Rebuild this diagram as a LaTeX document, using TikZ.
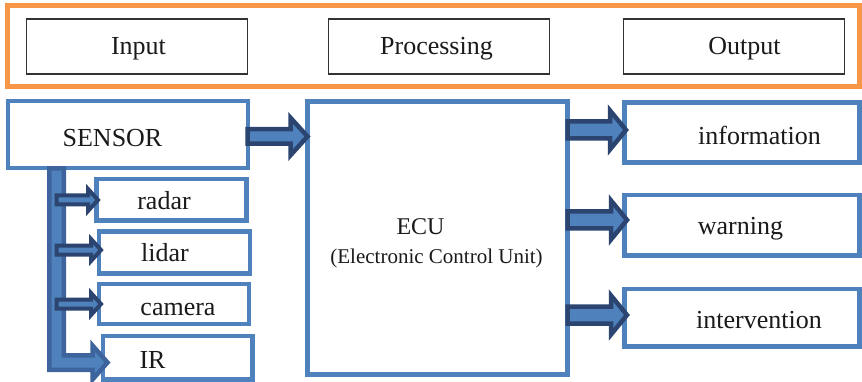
\documentclass[tikz,border=0pt]{standalone}
\usepackage{fontspec}
\setmainfont{Liberation Serif}
\usetikzlibrary{calc}
\definecolor{obl}{HTML}{4F81BD}
\definecolor{dkbl}{HTML}{2B4570}
\definecolor{mdbl}{HTML}{3D649C}
\definecolor{orng}{HTML}{F79646}
\definecolor{gline}{HTML}{333333}
\definecolor{txt}{HTML}{1A1A1A}
\tikzset{
  bbox/.style={draw=obl, line width=4.5pt, fill=white, rectangle, inner sep=0pt, outer sep=0pt},
  tbox/.style={draw=gline, line width=1.3pt, rectangle, inner sep=0pt, outer sep=0pt},
  oframe/.style={draw=orng, line width=4.5pt, rectangle, inner sep=0pt, outer sep=0pt},
  lbl/.style={font=\fontsize{26}{30}\selectfont, inner sep=0pt, anchor=base, text=txt},
  darrow/.style={draw=dkbl, fill=obl, line width=4.5pt, line join=miter},
  sarrow/.style={draw=dkbl, fill=obl, line width=4pt, line join=miter},
  larrow/.style={draw=mdbl, fill=obl, line width=4.5pt, line join=miter},
}
% #1 style, #2 start, #3 tip, #4 shaft half, #5 head half, #6 head length
\newcommand\harrow[6]{%
  \path[#1] let \p1=(#2), \p2=(#3) in
    (\x1,\y2+#4) -- (\x2-#6,\y2+#4) -- (\x2-#6,\y2+#5) -- (\x2,\y2)
    -- (\x2-#6,\y2-#5) -- (\x2-#6,\y2-#4) -- (\x1,\y2-#4) -- cycle;}
\begin{document}
\begin{tikzpicture}[x=1pt,y=-1pt]
\useasboundingbox (0,0) rectangle (862,382);
% top band
\node[oframe, minimum width=852pt, minimum height=81pt] (frame) at (433.5,46) {};
\node[tbox, minimum width=221pt, minimum height=55pt] (inbox) at (137,46.5) {};
\node[tbox, minimum width=221pt, minimum height=55pt] (prbox) at (439,46.5) {};
\node[tbox, minimum width=221pt, minimum height=55pt] (outbox) at (734,46.5) {};
\node[lbl] (tin) at (138.5,55) {Input};
\node[lbl] (tpr) at (436.5,55) {Processing};
\node[lbl] (tout) at (744.5,55) {Output};
% boxes
\node[bbox, line width=4pt, minimum width=240pt, minimum height=67pt] (sensor) at (127.5,135) {};
\node[bbox, line width=5pt, minimum width=260pt, minimum height=272.5pt] (ecu) at (437.5,238.25) {};
\node[bbox, minimum width=235pt, minimum height=60pt] (info) at (742,132.5) {};
\node[bbox, minimum width=235pt, minimum height=60.5pt] (warn) at (742,225.25) {};
\node[bbox, minimum width=235pt, minimum height=57.5pt] (interv) at (742,317.75) {};
\node[bbox, minimum width=150pt, minimum height=41.5pt] (radar) at (171.5,199.75) {};
\node[bbox, minimum width=151pt, minimum height=42pt] (lidar) at (174.5,252.5) {};
\node[bbox, minimum width=150pt, minimum height=40pt] (camera) at (174,304) {};
\node[bbox, minimum width=149.5pt, minimum height=43.5pt] (ir) at (177.75,357.75) {};
% labels
\node[lbl] (tsensor) at (112.5,146.5) {SENSOR};
\node[lbl] (tinfo) at (759.5,144.5) {information};
\node[lbl] (twarn) at (740.5,235) {warning};
\node[lbl] (tinterv) at (759,328.5) {intervention};
\node[lbl] (tradar) at (164,210) {radar};
\node[lbl] (tlidar) at (165,261.5) {lidar};
\node[lbl] (tcamera) at (178,315) {camera};
\node[lbl] (tir) at (152.5,368) {IR};
\node[lbl, font=\fontsize{24}{28}\selectfont] (tecu) at (420.5,235) {ECU};
\node[lbl, font=\fontsize{21}{25}\selectfont] (tecu2) at (436.5,263) {(Electronic Control Unit)};
% connector coordinates
\coordinate (ein) at ($(ecu.west |- sensor.east)+(0,1.5)$);
\coordinate (o1) at ($(info.west)+(1.5,-2.5)$);
\coordinate (o2) at ($(warn.west)+(2.5,-5.25)$);
\coordinate (o3) at ($(interv.west)+(2.5,-2.75)$);
\coordinate (ltop) at ($(sensor.south)+(-71,0)$);
\coordinate (ltip) at ($(ir.west)+(4.5,4.75)$);
\coordinate (s1) at ($(radar.west)+(1.5,0.25)$);
\coordinate (s2) at ($(lidar.west)+(2,-2.5)$);
\coordinate (s3) at ($(camera.west)+(2,0)$);
% arrows
\harrow{darrow}{sensor.east |- ein}{ein}{7.25pt}{18.75pt}{17pt}
\harrow{darrow}{ecu.east |- o1}{o1}{8.5pt}{19.5pt}{16pt}
\harrow{darrow}{ecu.east |- o2}{o2}{8.5pt}{19.5pt}{16pt}
\harrow{darrow}{ecu.east |- o3}{o3}{8.5pt}{19.5pt}{16pt}
\path[larrow] let \p1=(ltop), \p2=(ltip) in
  (\x1-7.25pt,\y1) -- (\x1+7.25pt,\y1) -- (\x1+7.25pt,\y2+7.25pt)
  -- (\x2-15pt,\y2+7.25pt) -- (\x2-15pt,\y2+17pt) -- (\x2,\y2)
  -- (\x2-15pt,\y2-17pt) -- (\x2-15pt,\y2-7.25pt) -- (\x1-7.25pt,\y2-7.25pt) -- cycle;
\harrow{sarrow}{ltop |- s1}{s1}{4.5pt}{11pt}{10pt}
\harrow{sarrow}{ltop |- s2}{s2}{4.5pt}{11pt}{10pt}
\harrow{sarrow}{ltop |- s3}{s3}{4.5pt}{11pt}{10pt}
\end{tikzpicture}
\end{document}
